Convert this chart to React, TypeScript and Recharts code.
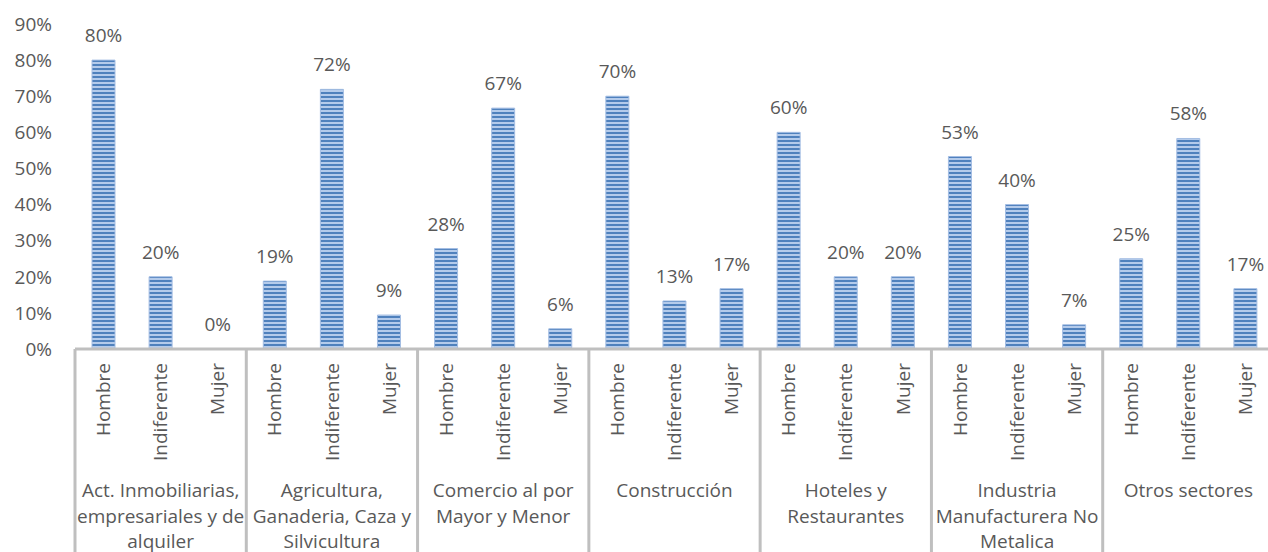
import { ComposedChart, Bar, Line, XAxis, YAxis, LabelList } from 'recharts';

// sector labels, one entry per printed line
const sectors = [
  ['Act. Inmobiliarias,', 'empresariales y de', 'alquiler'],
  ['Agricultura,', 'Ganaderia, Caza y', 'Silvicultura'],
  ['Comercio al por', 'Mayor y Menor'],
  ['Construcción'],
  ['Hoteles y', 'Restaurantes'],
  ['Industria', 'Manufacturera No', 'Metalica'],
  ['Otros sectores'],
];
const categories = ['Hombre', 'Indiferente', 'Mujer'];

const hombre = [80, 18.8, 27.8, 70, 60, 53.3, 25];
const indiferente = [20, 71.9, 66.7, 13.3, 20, 40, 58.3];
const mujer = [0, 9.4, 5.6, 16.7, 20, 6.7, 16.7];

const yTicks = [0, 10, 20, 30, 40, 50, 60, 70, 80, 90];

const series = [hombre, indiferente, mujer];

const rows = sectors.flatMap((lines, s) =>
  categories.map((cat, c) => ({
    key: `${s}-${c}`,
    sector: s,
    pos: c,
    cat,
    value: series[c][s],
  }))
);

const TEXT = '#595959';
const LINE = '#bfbfbf';
const FONT = "'Open Sans', sans-serif";
const TICK_GAP = 14;

function CategoryTick(props: any) {
  const { x, y, payload } = props;
  const row = rows.find((r) => r.key === payload.value);
  if (!row) return null;
  const half = payload.offset ?? 28.5;
  const axisY = y - TICK_GAP;
  const lines = sectors[row.sector];
  const isLast = row.sector === sectors.length - 1 && row.pos === 2;
  return (
    <g>
      <text
        x={x}
        y={y}
        transform={`rotate(-90, ${x}, ${y})`}
        textAnchor="end"
        dy="0.35em"
        fill={TEXT}
        fontSize={19}
        fontFamily={FONT}
      >
        {row.cat}
      </text>
      {row.pos === 0 && (
        <line x1={x - half} x2={x - half} y1={axisY} y2={axisY + 220} stroke={LINE} strokeWidth={3} />
      )}
      {isLast && (
        <line x1={x + half} x2={x + half} y1={axisY} y2={axisY + 220} stroke={LINE} strokeWidth={3} />
      )}
      {row.pos === 1 && (
        <text x={x} y={axisY + 148} textAnchor="middle" fill={TEXT} fontSize={19} fontFamily={FONT}>
          {lines.map((l, i) => (
            <tspan key={i} x={x} dy={i === 0 ? 0 : 25.5}>
              {l}
            </tspan>
          ))}
        </text>
      )}
    </g>
  );
}

export default function App() {
  return (
    <div
      style={{
        position: 'absolute',
        left: 0,
        top: 0,
        width: 1268,
        height: 552,
        overflow: 'hidden',
        background: '#fff',
        fontFamily: FONT,
      }}
    >
      <ComposedChart
        width={1290}
        height={552}
        data={rows}
        margin={{ top: 24, right: 16, bottom: 0, left: 0 }}
        barSize={23}
      >
        <defs>
          <pattern id="stripes" patternUnits="userSpaceOnUse" width={4} height={4}>
            <rect x={0} y={0} width={4} height={4} fill="#b4cbeb" />
            <rect x={0} y={0} width={4} height={2} fill="#4f81bd" />
          </pattern>
        </defs>
        <XAxis
          dataKey="key"
          interval={0}
          height={203}
          tickLine={false}
          tickSize={0}
          tickMargin={TICK_GAP}
          axisLine={{ stroke: LINE, strokeWidth: 3 }}
          tick={<CategoryTick />}
        />
        <YAxis
          domain={[0, 90]}
          ticks={yTicks}
          width={75}
          axisLine={false}
          tickLine={false}
          tickSize={0}
          tickMargin={23}
          tickFormatter={(v: number) => `${v}%`}
          tick={{ fill: TEXT, fontSize: 19, fontFamily: FONT }}
        />
        <Bar dataKey="value" fill="url(#stripes)" stroke="#a3bde3" strokeWidth={1} isAnimationActive={false} />
        {/* invisible series that only carries the value labels (so 0% shows too) */}
        <Line
          dataKey="value"
          stroke="none"
          dot={false}
          activeDot={false}
          isAnimationActive={false}
        >
          <LabelList
            dataKey="value"
            position="top"
            offset={18}
            formatter={(v: any) => `${Math.round(Number(v))}%`}
            fill={TEXT}
            fontSize={19}
            fontFamily={FONT}
          />
        </Line>
      </ComposedChart>
    </div>
  );
}
